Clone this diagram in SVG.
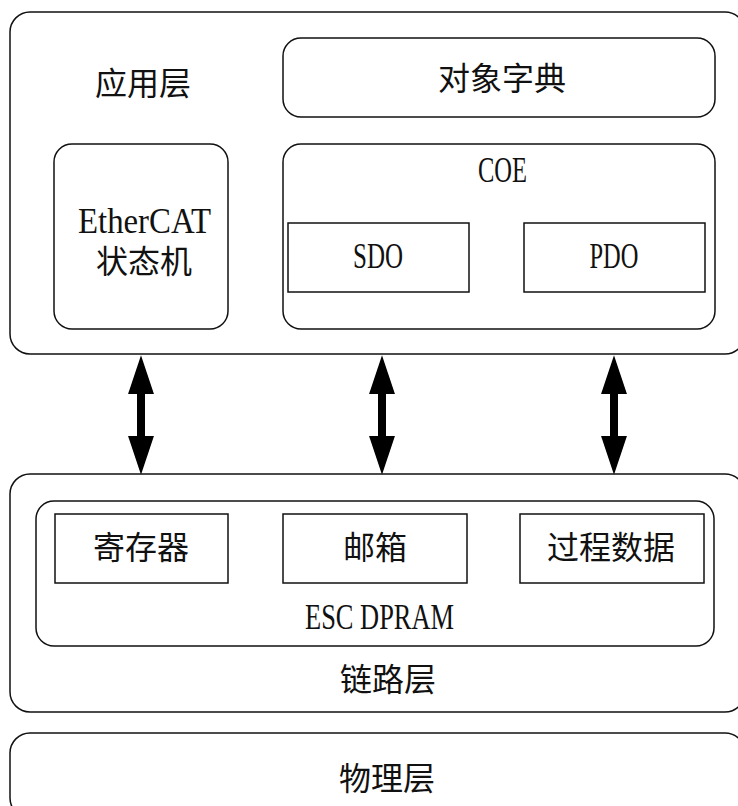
<svg xmlns="http://www.w3.org/2000/svg" width="738" height="806" viewBox="0 0 738 806">
<style>
.box{fill:none;stroke:#111;stroke-width:1.5}
.zh{font-family:"Noto Sans CJK SC","Noto Sans",sans-serif;font-size:32px;fill:#111;text-anchor:middle}
.en{font-family:"Liberation Serif",serif;font-size:35px;fill:#111;text-anchor:middle}
.arr{stroke:#000;stroke-width:8;fill:none}
</style>
<defs>
<marker id="head" markerUnits="userSpaceOnUse" markerWidth="40" markerHeight="26" refX="1" refY="12" orient="auto-start-reverse" viewBox="0 0 37 24">
<path d="M0,0 L36,12 L0,24 z" fill="#000"/>
</marker>
</defs>
<rect width="738" height="806" fill="#fff"/>
<g id="app-layer">
<rect class="box" x="10" y="12" width="735" height="342" rx="20"/>
<text class="zh" x="143" y="95">应用层</text>
</g>
<g id="object-dictionary">
<rect class="box" x="283" y="38" width="432" height="79" rx="18"/>
<text class="zh" x="502" y="90">对象字典</text>
</g>
<g id="ethercat-sm">
<rect class="box" x="54" y="144" width="174" height="185" rx="18"/>
<text class="en" x="144.5" y="233" textLength="133" lengthAdjust="spacingAndGlyphs">EtherCAT</text>
<text class="zh" x="144" y="273">状态机</text>
</g>
<g id="coe">
<rect class="box" x="283" y="144" width="432" height="185" rx="18"/>
<text class="en" x="502.5" y="182" textLength="49" lengthAdjust="spacingAndGlyphs">COE</text>
</g>
<g id="sdo">
<rect class="box" x="288" y="223" width="181" height="69"/>
<text class="en" x="378" y="268" textLength="50" lengthAdjust="spacingAndGlyphs">SDO</text>
</g>
<g id="pdo">
<rect class="box" x="524" y="223" width="181" height="69"/>
<text class="en" x="614" y="268" textLength="49" lengthAdjust="spacingAndGlyphs">PDO</text>
</g>
<g id="connectors">
<line class="arr" x1="141" y1="393" x2="141" y2="437" marker-start="url(#head)" marker-end="url(#head)"/>
<line class="arr" x1="382" y1="393" x2="382" y2="437" marker-start="url(#head)" marker-end="url(#head)"/>
<line class="arr" x1="614" y1="393" x2="614" y2="437" marker-start="url(#head)" marker-end="url(#head)"/>
</g>
<g id="link-layer">
<rect class="box" x="10" y="474" width="735" height="238" rx="20"/>
<text class="zh" x="388" y="691">链路层</text>
</g>
<g id="esc-dpram">
<rect class="box" x="36" y="501" width="678" height="145" rx="18"/>
<text class="en" x="379.5" y="629" textLength="149" lengthAdjust="spacingAndGlyphs">ESC DPRAM</text>
</g>
<g id="registers">
<rect class="box" x="55" y="514" width="173" height="69"/>
<text class="zh" x="141" y="559">寄存器</text>
</g>
<g id="mailbox">
<rect class="box" x="283" y="514" width="184" height="69"/>
<text class="zh" x="375" y="559">邮箱</text>
</g>
<g id="process-data">
<rect class="box" x="520" y="514" width="184" height="69"/>
<text class="zh" x="611" y="559">过程数据</text>
</g>
<g id="physical-layer">
<rect class="box" x="10" y="733" width="735" height="85" rx="20"/>
<text class="zh" x="387" y="790">物理层</text>
</g>
</svg>
